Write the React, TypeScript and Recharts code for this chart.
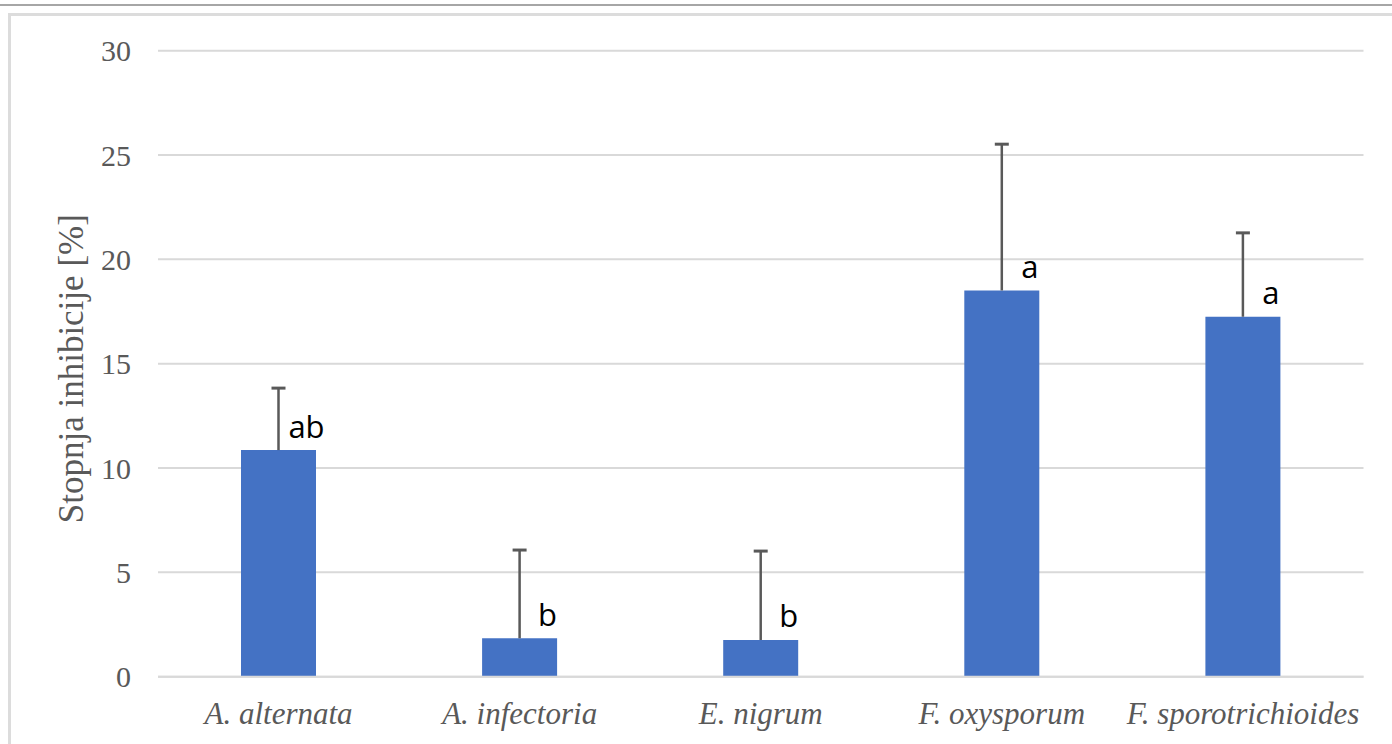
import { BarChart, Bar, XAxis, YAxis, CartesianGrid, LabelList } from 'recharts';

const categories = ['A. alternata', 'A. infectoria', 'E. nigrum', 'F. oxysporum', 'F. sporotrichioides'];
const means = [10.86, 1.84, 1.76, 18.51, 17.25];
const errors = [2.97, 4.23, 4.26, 7.01, 4.02];
const letters = ['ab', 'b', 'b', 'a', 'a'];
const yTicks = [0, 5, 10, 15, 20, 25, 30];

const data = categories.map((name, i) => ({
  name,
  mean: means[i],
  err: errors[i],
  letter: letters[i],
}));

const SERIF = '"Liberation Serif", "Times New Roman", serif';
const AXIS_GRAY = '#595959';

// draws the upper error whisker over the stacked (invisible) error segment
const ErrorWhisker = (props: any) => {
  const { x, y, width, height } = props;
  if (height == null) return null;
  const cx = x + width / 2;
  return (
    <g>
      <line x1={cx} x2={cx} y1={y} y2={y + height} stroke="#595959" strokeWidth={2.5} />
      <line x1={cx - 7} x2={cx + 7} y1={y} y2={y} stroke="#595959" strokeWidth={3} />
    </g>
  );
};

const LetterLabel = (props: any) => {
  const { x, y, width, value } = props;
  return (
    <text
      x={x + width / 2 + 28}
      y={y - 12.5}
      textAnchor="middle"
      fontFamily='"Open Sans", sans-serif'
      fontSize={31}
      fill="#000"
    >
      {value}
    </text>
  );
};

const YLabel = (props: any) => {
  const { viewBox } = props;
  const cy = viewBox.y + viewBox.height / 2 + 5;
  return (
    <text
      x={72}
      y={cy}
      transform={`rotate(-90, 72, ${cy})`}
      textAnchor="middle"
      dominantBaseline="central"
      fontFamily={SERIF}
      fontSize={35}
      fill={AXIS_GRAY}
    >
      Stopnja inhibicije [%]
    </text>
  );
};

export default function App() {
  return (
    <div
      style={{
        position: 'absolute',
        left: 0,
        top: 0,
        width: 1392,
        height: 744,
        overflow: 'hidden',
        background: '#fff',
      }}
    >
      <div style={{ position: 'absolute', left: 0, top: 4, width: 1392, height: 2, background: '#a6a6a6' }} />
      <div
        style={{
          position: 'absolute',
          left: 8,
          top: 13,
          width: 1400,
          height: 760,
          borderLeft: '3px solid #dcdcdc',
          borderTop: '3px solid #dcdcdc',
        }}
      />
      <div style={{ position: 'absolute', left: 0, top: 0 }}>
        <BarChart
          width={1392}
          height={744}
          data={data}
          margin={{ top: 50.7, right: 28.5, bottom: 0, left: 0 }}
          barSize={75}
        >
          <CartesianGrid vertical={false} stroke="#d9d9d9" strokeWidth={2} />
          <XAxis
            dataKey="name"
            height={67.3}
            axisLine={{ stroke: '#d9d9d9', strokeWidth: 2 }}
            tickLine={false}
            tickSize={0}
            tickMargin={25}
            interval={0}
            tick={{ fill: AXIS_GRAY, fontSize: 31, fontFamily: SERIF, fontStyle: 'italic' }}
          />
          <YAxis
            width={158}
            domain={[0, 30]}
            ticks={yTicks}
            axisLine={false}
            tickLine={false}
            tickSize={0}
            tickMargin={27}
            tick={{ fill: AXIS_GRAY, fontSize: 30, fontFamily: SERIF }}
            label={<YLabel />}
          />
          <Bar dataKey="mean" stackId="s" fill="#4472C4" isAnimationActive={false}>
            <LabelList dataKey="letter" content={<LetterLabel />} />
          </Bar>
          <Bar dataKey="err" stackId="s" fill="none" shape={<ErrorWhisker />} isAnimationActive={false} />
        </BarChart>
      </div>
    </div>
  );
}
